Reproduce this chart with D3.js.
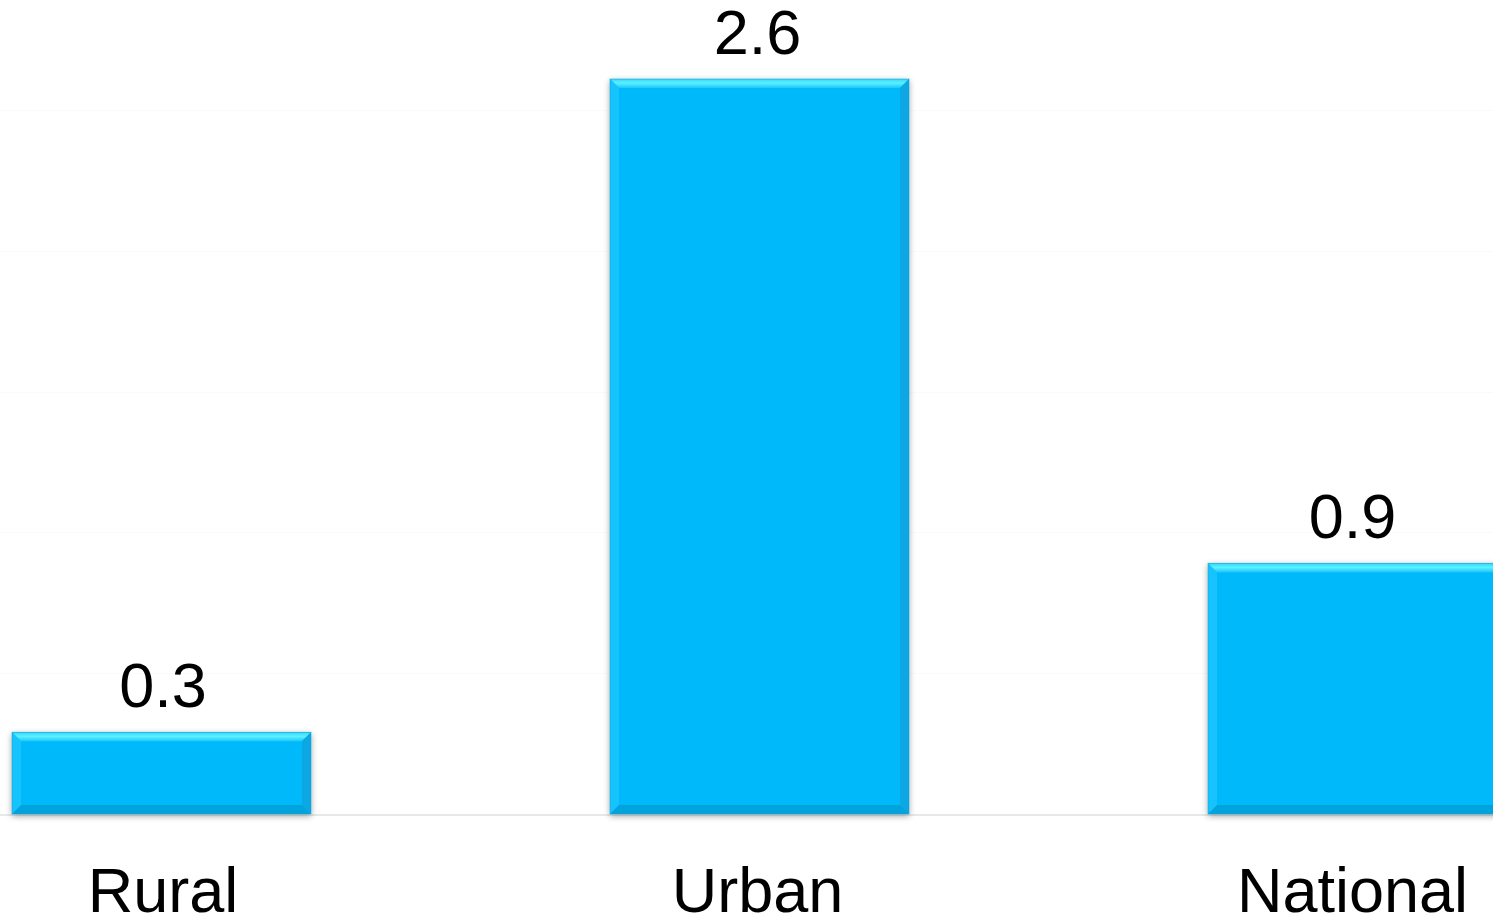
<!DOCTYPE html>
<html>
<head>
<meta charset="utf-8">
<script src="https://cdn.jsdelivr.net/npm/d3@7"></script>
<style>
html,body{margin:0;padding:0;background:#fff;overflow:hidden;}
svg{display:block;}
</style>
</head>
<body>
<svg id="chart" width="1493" height="918"></svg>
<script>
const categories = ["Rural", "Urban", "National"];
const values = [0.29, 2.61, 0.89];
const gridTicks = [0.5, 1.0, 1.5, 2.0, 2.5];

const W = 1493, H = 918;
const svg = d3.select("#chart");

const step = 598, p = 0.5;
const x = d3.scaleBand().domain(categories)
  .range([12 - step*p/2, 12 - step*p/2 + step*3])
  .paddingInner(p).paddingOuter(p/2);
const y = d3.scaleLinear().domain([0, 2.5]).range([814, 110]);

const defs = svg.append("defs");
const f = defs.append("filter").attr("id","sh").attr("x","-10%").attr("y","-10%").attr("width","120%").attr("height","120%");
f.append("feGaussianBlur").attr("in","SourceAlpha").attr("stdDeviation",3).attr("result","b");
f.append("feOffset").attr("in","b").attr("dx",0).attr("dy",2).attr("result","o");
f.append("feComponentTransfer").attr("in","o").attr("result","oa").append("feFuncA").attr("type","linear").attr("slope",0.35);
const m = f.append("feMerge");
m.append("feMergeNode").attr("in","oa");
m.append("feMergeNode").attr("in","SourceGraphic");

const gt = defs.append("linearGradient").attr("id","gTop").attr("x1",0).attr("y1",0).attr("x2",0).attr("y2",1);
gt.append("stop").attr("offset","0%").attr("stop-color","#35d6ff");
gt.append("stop").attr("offset","45%").attr("stop-color","#5cf2ff");
gt.append("stop").attr("offset","100%").attr("stop-color","#1cc6fd");

// gridlines
svg.append("g").selectAll("line").data(gridTicks).join("line")
  .attr("x1",0).attr("x2",W).attr("y1",d=>Math.round(y(d))+0.5).attr("y2",d=>Math.round(y(d))+0.5)
  .attr("stroke","#fafafa").attr("stroke-width",1);

// baseline
svg.append("line").attr("x1",0).attr("x2",W).attr("y1",y(0)+1).attr("y2",y(0)+1)
  .attr("stroke","#e8e8e8").attr("stroke-width",2);

const b = 9;
const bars = svg.append("g").selectAll("g").data(categories).join("g").attr("filter","url(#sh)");
bars.each(function(c,i){
  const g = d3.select(this);
  const x0 = x(c), x1 = x0 + x.bandwidth(), y0 = y(values[i]), y1 = y(0);
  g.append("rect").attr("x",x0).attr("y",y0).attr("width",x1-x0).attr("height",y1-y0).attr("fill","#06b9fb");
  g.append("path").attr("d",`M${x0},${y0}L${x1},${y0}L${x1-b},${y0+b}L${x0+b},${y0+b}Z`).attr("fill","url(#gTop)");
  g.append("path").attr("d",`M${x0},${y0}L${x0+b},${y0+b}L${x0+b},${y1-b}L${x0},${y1}Z`).attr("fill","#15c3fd");
  g.append("path").attr("d",`M${x1},${y0}L${x1},${y1}L${x1-b},${y1-b}L${x1-b},${y0+b}Z`).attr("fill","#07a8e4");
  g.append("path").attr("d",`M${x0},${y1}L${x1},${y1}L${x1-b},${y1-b}L${x0+b},${y1-b}Z`).attr("fill","#06a3dc");
  g.append("rect").attr("x",x0).attr("y",y0).attr("width",x1-x0).attr("height",y1-y0).attr("fill","none").attr("stroke","#0b9acb").attr("stroke-opacity",0.5).attr("stroke-width",1);
});

const labelX = [1.5, -2, -5];

// value labels
svg.append("g").selectAll("text").data(categories).join("text")
  .attr("x",(c,i)=>x(c)+x.bandwidth()/2 + labelX[i])
  .attr("y",(c,i)=>y(values[i]) - 25)
  .attr("text-anchor","middle")
  .attr("font-family","Liberation Sans, Arial, sans-serif")
  .attr("font-size",63).attr("fill","#000")
  .text((c,i)=>values[i].toFixed(1));

// category labels
svg.append("g").selectAll("text").data(categories).join("text")
  .attr("x",(c,i)=>x(c)+x.bandwidth()/2 + labelX[i])
  .attr("y",912)
  .attr("text-anchor","middle")
  .attr("font-family","Liberation Sans, Arial, sans-serif")
  .attr("font-size",63).attr("fill","#000")
  .text(c=>c);
</script>
</body>
</html>
